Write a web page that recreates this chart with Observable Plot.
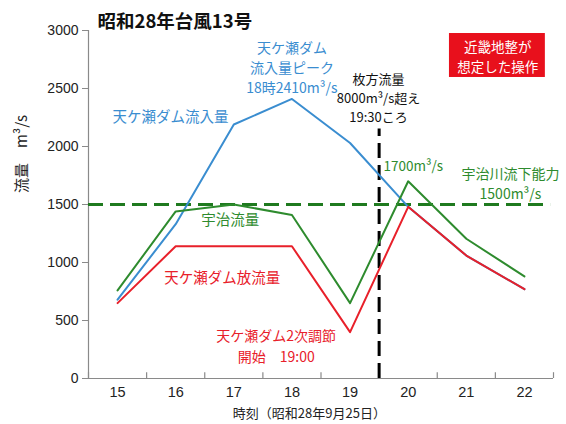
<!DOCTYPE html>
<html><head><meta charset="utf-8">
<script src="https://cdn.jsdelivr.net/npm/d3@7"></script>
<script src="https://cdn.jsdelivr.net/npm/@observablehq/plot@0.6"></script>
<style>
body{margin:0;background:#fff;}
#chart svg{display:block;}
</style>
</head><body><div id="chart"></div>
<script>
// ---- data ----
const hours = [15, 16, 17, 18, 19, 20, 21, 22];
const inflow = [680, 1330, 2190, 2410, 2030, 1480, 1060, 770];   // 天ケ瀬ダム流入量
const ujiFlow = [760, 1440, 1500, 1410, 650, 1700, 1205, 880];   // 宇治流量
const release = [650, 1140, 1140, 1140, 400, 1480, 1060, 770];   // 天ケ瀬ダム放流量
const yTicks = [0, 500, 1000, 1500, 2000, 2500, 3000];
const bandEdges = [14.5, 15.5, 16.5, 17.5, 18.5, 19.5, 20.5, 21.5, 22.5];
const capacity = 1500;          // 宇治川流下能力
const hirakataTime = 19.5;      // 枚方流量8000m³/s超え 19:30ころ
const hirakataTop = 2150;

const titleText = "昭和28年台風13号";
const xLabel = "時刻（昭和28年9月25日）";
const yLabel = "流量　m³/s";

// annotations (positions in data units)
const notes = [
  {x: 18.0,  y: 2690, text: "天ケ瀬ダム\n流入量ピーク\n18時2410m³/s", color: "#3a8dd0", size: 14, lh: 1.42, anchor: "middle"},
  {x: 15.91, y: 2259, text: "天ケ瀬ダム流入量", color: "#3a8dd0", size: 14.5, lh: 1.2, anchor: "middle"},
  {x: 19.49, y: 2430, text: "枚方流量\n8000m³/s超え\n19:30ころ", color: "#111111", size: 13, lh: 1.46, anchor: "middle"},
  {x: 19.575, y: 1836, text: "1700m³/s", color: "#2e8b2e", size: 13.5, lh: 1.2, anchor: "start"},
  {x: 21.76, y: 1690, text: "宇治川流下能力\n1500m³/s", color: "#2e8b2e", size: 14, lh: 1.46, anchor: "middle"},
  {x: 16.94, y: 1371, text: "宇治流量", color: "#2e8b2e", size: 14.5, lh: 1.2, anchor: "middle"},
  {x: 16.8,  y: 871,  text: "天ケ瀬ダム放流量", color: "#e8202a", size: 14.5, lh: 1.2, anchor: "middle"},
  {x: 17.73, y: 290,  text: "天ケ瀬ダム2次調節\n開始　19:00", color: "#e8202a", size: 14, lh: 1.46, anchor: "middle"}
];
const boxes = [{x1: 20.71, x2: 22.36, y1: 2595, y2: 2974, cx: 21.54, cy: 2784, text: "近畿地整が\n想定した操作"}];

const toRows = vals => hours.map((h, i) => ({hour: h, value: vals[i]}));
const font = '"Noto Sans CJK JP", sans-serif';
const numFont = '"Liberation Sans", Arial, sans-serif';

const textMarks = notes.map(n => Plot.text([n], {
  x: "x", y: "y", text: "text", fill: n.color, fontSize: n.size, lineHeight: n.lh,
  textAnchor: n.anchor, lineAnchor: "middle", fontFamily: font
}));

const chart = Plot.plot({
  width: 566, height: 424,
  marginLeft: 88, marginRight: 13, marginTop: 30, marginBottom: 46,
  style: {fontFamily: font, fontSize: "14px", background: "#fff", overflow: "visible"},
  x: {domain: [14.5, 22.5]},
  y: {domain: [0, 3000]},
  marks: [
    Plot.ruleY([0], {stroke: "#8a8a8a", strokeWidth: 1.2}),
    Plot.ruleX([14.5], {y1: 0, y2: 3000, stroke: "#8a8a8a", strokeWidth: 1.2}),
    Plot.axisY({ticks: yTicks, tickFormat: d => String(d), tickSize: 6, tickPadding: 4, label: null, stroke: "#8a8a8a", fill: "#222", fontSize: 14, fontFamily: numFont}),
    Plot.axisX({ticks: hours, tickFormat: d => String(d), tickSize: 0, tickPadding: 8, label: null, fill: "#222", fontSize: 14.5, fontFamily: numFont}),
    Plot.ruleX(bandEdges, {y1: 0, y2: 50, stroke: "#8a8a8a", strokeWidth: 1.2}),
    // reference lines
    Plot.ruleY([capacity], {x1: 14.5, x2: 22.45, stroke: "#1f7a1f", strokeWidth: 3, strokeDasharray: "15,7"}),
    Plot.ruleX([hirakataTime], {y1: 0, y2: hirakataTop, stroke: "#000", strokeWidth: 3, strokeDasharray: "15,7"}),
    // series
    Plot.line(toRows(inflow), {x: "hour", y: "value", stroke: "#3a8dd0", strokeWidth: 2}),
    Plot.line(toRows(ujiFlow), {x: "hour", y: "value", stroke: "#2e8b2e", strokeWidth: 2}),
    Plot.line(toRows(release), {x: "hour", y: "value", stroke: "#e8202a", strokeWidth: 2}),
    // red box
    Plot.rect(boxes, {x1: "x1", x2: "x2", y1: "y1", y2: "y2", fill: "#e8101c"}),
    Plot.text(boxes, {x: "cx", y: "cy", text: "text", fill: "#fff", fontSize: 13.5, lineHeight: 1.46, lineAnchor: "middle", fontFamily: font}),
    ...textMarks,
    // title, axis labels
    Plot.text([titleText], {frameAnchor: "top-left", dx: 9, dy: -8, text: d => d, fontSize: 18.5, fontWeight: "bold", fill: "#111", lineAnchor: "middle", textAnchor: "start", fontFamily: font}),
    Plot.text([xLabel], {x: [18.3], frameAnchor: "bottom", dy: 35, text: d => d, fontSize: 13, fill: "#222", lineAnchor: "middle", fontFamily: font}),
    Plot.text([yLabel], {y: [1600], frameAnchor: "left", dx: -66, text: d => d, rotate: -90, fontSize: 15, fill: "#222", lineAnchor: "middle", fontFamily: font})
  ]
});
document.getElementById("chart").appendChild(chart);
</script>
</body></html>
